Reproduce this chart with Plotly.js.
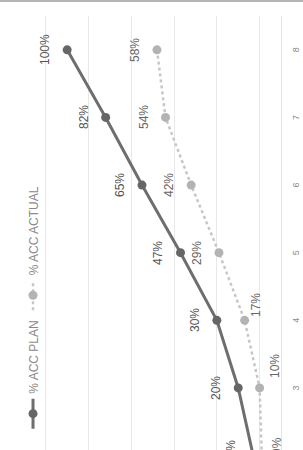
<!DOCTYPE html>
<html><head><meta charset="utf-8">
<script src="https://cdn.plot.ly/plotly-3.0.1.min.js"></script>
<style>
html,body{margin:0;padding:0;background:#fff;}
#frame{position:relative;width:303px;height:450px;overflow:hidden;background:#fff;}
#rot{position:absolute;left:0;top:0;width:450px;height:303px;overflow:hidden;transform-origin:0 0;transform:translate(0,450px) rotate(-90deg);box-sizing:border-box;border-right:2px solid #b4b4b4;background:#fff;}
#chart{position:absolute;left:-107px;top:0;width:557px;height:303px;}
</style></head><body>
<div id="frame"><div id="rot"><div id="chart"></div></div></div>
<script>
const categories = [2, 3, 4, 5, 6, 7, 8];
const accPlan = [13, 20, 30, 47, 65, 82, 100];
const accActual = [9, 10, 17, 29, 42, 54, 58];
const seriesNames = ['% ACC PLAN', '% ACC ACTUAL'];

// label placement (style only)
const planShift = [{xs: 4, ys: 22}, {xs: 0, ys: 22}, {xs: 0, ys: 22}, {xs: 0, ys: 22},
  {xs: 0, ys: 22}, {xs: 0, ys: 22}, {xs: 0, ys: 22}];
const actualShift = [{xs: 10, ys: -15}, {xs: 22, ys: -15}, {xs: 15, ys: -11},
  {xs: 0, ys: 22}, {xs: 0, ys: 22}, {xs: 0, ys: 22}, {xs: 0, ys: 22}];

const traces = [
  {x: categories, y: accPlan, name: seriesNames[0], type: 'scatter', mode: 'lines+markers',
   line: {color: '#6e6e6e', width: 3}, marker: {color: '#666', size: 9}, cliponaxis: false},
  {x: categories, y: accActual, name: seriesNames[1], type: 'scatter', mode: 'lines+markers',
   line: {color: '#c6c6c6', width: 2.5, dash: 'dot'}, marker: {color: '#b3b3b3', size: 9}, cliponaxis: false}
];

const annotations = [];
categories.forEach((c, i) => {
  annotations.push({x: c, y: accPlan[i], xref: 'x', yref: 'y', text: accPlan[i] + '%', showarrow: false,
    xshift: planShift[i].xs, yshift: planShift[i].ys, font: {size: 12, color: '#555', family: 'Liberation Sans, Arial, sans-serif'}});
  annotations.push({x: c, y: accActual[i], xref: 'x', yref: 'y', text: accActual[i] + '%', showarrow: false,
    xshift: actualShift[i].xs, yshift: actualShift[i].ys, font: {size: 12, color: '#666', family: 'Liberation Sans, Arial, sans-serif'}});
});

const layout = {
  width: 557, height: 303,
  margin: {l: 0, r: 16, t: 3, b: 22},
  paper_bgcolor: '#fff', plot_bgcolor: '#fff',
  font: {family: 'Liberation Sans, Arial, sans-serif', color: '#888'},
  showlegend: true,
  legend: {orientation: 'h', x: 0.228, y: 0.892, xanchor: 'left', yanchor: 'middle',
    font: {size: 12, color: '#8a8a8a'}, bgcolor: 'rgba(0,0,0,0)', itemwidth: 30},
  xaxis: {range: [0.5, 8.5], tickmode: 'linear', tick0: 1, dtick: 1, showgrid: false, zeroline: false,
    showline: true, linecolor: '#e4e4e4', linewidth: 1, ticks: '', ticklabelstandoff: 6,
    tickfont: {size: 9, color: '#8a8a8a'}},
  yaxis: {range: [0, 130], tick0: 10, dtick: 20, showgrid: true, gridcolor: '#e8e8e8', gridwidth: 1,
    zeroline: false, showticklabels: false, ticks: ''},
  annotations: annotations
};

Plotly.newPlot('chart', traces, layout, {displayModeBar: false, staticPlot: true});
</script>
</body></html>
